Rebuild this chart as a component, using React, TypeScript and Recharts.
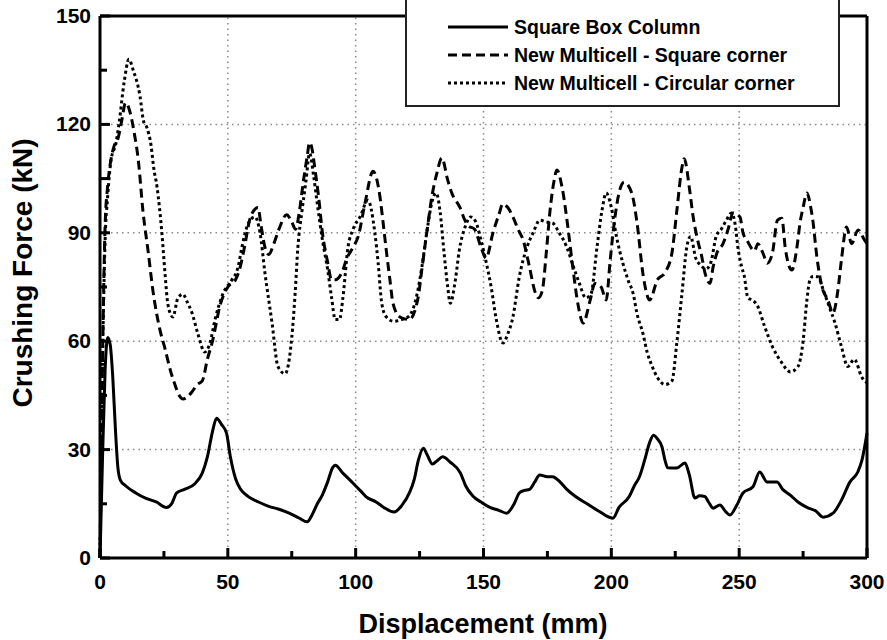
import React from 'react';
import { LineChart, Line, XAxis, YAxis, ReferenceLine, Label } from 'recharts';

// Square box column (solid)
const boxX = [0, 1, 2, 3, 4, 5, 6, 7, 8, 10, 14, 18, 22, 26, 28, 30, 33, 37, 40, 42, 44, 45.6, 47.5, 49.5, 51, 53, 55, 58, 62, 66, 70, 74, 78, 81, 83, 85, 87, 89, 91, 92, 95, 99, 102, 104, 108, 111, 115, 118, 121, 123, 124.5, 126.5, 128, 130, 132, 134, 137, 141, 143, 146, 149, 152.5, 156, 159, 162, 164, 166, 168, 170, 172, 175, 177, 180, 182.6, 186, 190.5, 195, 200.6, 203, 207, 209, 211, 213, 215, 216.5, 218, 219.8, 221, 222, 225.6, 228.8, 230.5, 232.7, 234.5, 236.6, 238, 239.8, 242.5, 244.5, 246.4, 249, 251.5, 255.4, 258, 261, 264.8, 267, 270, 273, 276.5, 280, 282.8, 286.7, 290, 293.3, 296.4, 298, 300];
const boxY = [0, 28, 52, 61, 59, 50, 36, 25, 21.5, 20, 18, 16.5, 15.5, 14, 15, 18, 19, 20.5, 23.5, 28, 35, 38.7, 37, 34.5, 28, 22, 19, 17, 15.5, 14.3, 13.5, 12.4, 11, 10, 12, 15, 17.5, 21, 25, 25.7, 23.5, 20.7, 18.5, 17, 15.5, 14, 12.7, 14.5, 18, 22, 27, 30.4, 28.5, 26, 27, 28, 26.5, 23.5, 20, 17, 15.5, 14, 13.2, 12.4, 15, 18, 18.7, 19, 21, 23, 22.5, 22.5, 21, 19, 17, 15, 13, 11, 14, 17, 20, 22.5, 27, 32, 34, 33, 30.8, 27, 25, 24.9, 26.3, 23, 16.6, 17.2, 17, 15.5, 13.8, 14.7, 13, 11.9, 14.5, 18, 19.7, 23.8, 21, 21, 19, 17.4, 15.5, 14, 13, 11.3, 12.4, 16, 21, 23.8, 27, 34.6];

// New multicell - square corner (dashed)
const sqX = [0, 1, 2, 3, 4, 5.5, 7, 8.5, 10, 11.5, 13.4, 15, 16.8, 18.8, 20.7, 23.5, 25.4, 27.5, 29.3, 31, 32.5, 34, 36, 38, 40, 42, 44, 47, 50, 53, 55, 56.5, 58.7, 60, 61.8, 63, 64.5, 66, 68, 70, 73, 75, 76.5, 78, 79.5, 81, 82, 83, 84, 85.5, 87, 89, 90.6, 92, 94.6, 96.6, 99, 101, 103.6, 106.8, 109.5, 110.7, 112, 113.4, 114.6, 117.3, 121, 124.4, 126, 128, 129.8, 131.8, 133.7, 136, 137.6, 140.8, 142.7, 144, 146.5, 149, 151, 153.7, 156, 157.6, 159.5, 161.5, 163.5, 165.5, 168, 170, 171.5, 173, 174.5, 176, 177.5, 178.7, 180.7, 183, 185, 187, 189, 191.6, 193.6, 196, 198, 199.5, 201, 203, 205, 208, 210, 212.5, 215, 218, 221, 223.7, 225.6, 227.6, 228.5, 230.6, 232, 233.5, 235.4, 236.6, 238.6, 239.8, 241.3, 243.7, 245.6, 247.6, 250.3, 251.5, 253, 256, 257.3, 259.3, 261, 263, 265, 266.7, 268, 270.6, 272.6, 273.8, 275, 276.5, 278, 278.8, 280.4, 282.4, 284.7, 286.7, 288.6, 290, 292, 294, 296.5, 299, 300];
const sqY = [0, 55, 92, 103, 109, 114, 116, 121, 126, 124, 117.6, 110, 96, 85, 74, 63, 58, 52, 48, 45, 44, 44.5, 46, 48, 49, 55, 60, 70, 75, 77, 81, 86, 94, 96, 97, 92, 86, 84, 87, 91, 95, 93, 91, 96, 104, 111, 115, 113, 108, 100, 90, 82, 77, 77, 79, 83, 86, 89, 98, 107, 100, 93, 85, 77, 70.5, 66.7, 66, 72, 80.5, 91, 100, 106.6, 110.7, 104.6, 101, 97, 93.5, 92, 91, 86, 83, 90, 95, 98, 97, 94.4, 91, 88, 80.5, 74, 72, 74, 84, 96, 104, 107.4, 102.7, 91.6, 80, 70, 65, 71, 76, 75, 71.4, 82, 92, 101, 104, 101, 93, 78, 71.4, 77, 79, 84.4, 96, 108, 110.5, 102, 94.4, 88.8, 83.3, 79, 76, 80.5, 84.4, 87, 90.8, 95.5, 94.4, 90, 88, 85, 87, 84.4, 81.6, 84.4, 93.5, 94, 86, 79.7, 86, 92.7, 97, 101, 97, 93.5, 83.3, 75, 71.4, 67.8, 74, 82.5, 91.6, 87, 90.8, 88, 87];

// New multicell - circular corner (dotted)
const ciX = [0, 1, 2, 3, 4.3, 6.3, 7.4, 9.5, 11.3, 13, 15.6, 17, 18.4, 20, 21, 22.3, 24.2, 25.4, 26.6, 28.5, 30.5, 32.5, 34, 36, 38.3, 41, 43, 45, 48, 51.6, 54, 55.5, 58, 60.6, 62.6, 64.5, 67.3, 69.6, 72.4, 75, 76.3, 77.4, 79, 80.5, 82, 83.5, 85, 87, 89, 90.6, 92, 93.7, 95, 97, 99, 101.7, 104.8, 107.5, 108.8, 110.2, 112, 115, 118, 121, 124, 126, 128, 130, 131.5, 133, 134.5, 136, 137, 139, 140.5, 143, 145, 147, 149, 151, 153, 155, 157.6, 159.5, 161.5, 164, 167, 169.4, 172, 174.5, 177, 179.6, 182.6, 185, 187.5, 190, 192, 194.4, 196.3, 198, 200, 202, 204.5, 206.5, 208.6, 210, 212.4, 214, 216, 218, 221, 223.7, 225.6, 227.6, 229.5, 231, 233, 235, 237, 239, 241, 243, 245, 247, 248.5, 249.5, 251, 252, 253.4, 255, 257, 260, 263, 266.7, 270, 273, 275, 276.5, 277.7, 279, 280.8, 283, 285, 287.5, 290, 292.5, 295, 298, 300];
const ciY = [0, 55, 88, 100, 110, 115, 120, 132, 138, 135, 128, 121, 119, 114, 108, 102.7, 90, 79, 70, 66.7, 72, 73, 71, 67.8, 62, 57, 59.5, 66, 73, 77, 80.5, 86, 92.6, 94.4, 90, 79, 65, 53, 51, 61, 73, 86, 96, 104, 112, 106, 98, 88, 80, 72, 66, 66, 72, 86, 91, 94.4, 99, 90, 81.6, 70.5, 66.7, 65.5, 66, 67, 73, 81, 91, 99, 101, 96, 85, 75, 70.5, 77, 85, 92, 94.4, 93, 88, 82, 75, 66, 59.5, 62, 66.7, 77.8, 86, 90, 93.5, 93, 92.7, 90, 86, 81, 76, 72, 73, 86, 96, 101, 97, 89, 81.6, 77, 73, 67.8, 62, 57, 53, 50, 48, 49, 59.5, 73, 86, 89, 83, 81, 80, 82, 89, 91, 93.5, 95.5, 92, 86, 80.5, 78, 72, 71.4, 70, 64, 58.5, 54, 51.5, 53, 60, 71.4, 77, 78, 77.8, 74, 70, 65, 58.5, 53, 55, 50, 48.5];

const xTicks = [0, 25, 50, 75, 100, 125, 150, 175, 200, 225, 250, 275, 300];
const yTicks = [0, 15, 30, 45, 60, 75, 90, 105, 120, 135, 150];
const gridX = [50, 100, 150, 200, 250];
const gridY = [30, 60, 90, 120];

const zip = (xs: number[], ys: number[]) => xs.map((x, i) => ({ x, y: ys[i] }));
const boxData = zip(boxX, boxY);
const squareData = zip(sqX, sqY);
const circData = zip(ciX, ciY);

const FONT = '"Liberation Sans", Arial, sans-serif';
const TICK_MAJOR = 10;
const TICK_MINOR = 7;

// custom tick: inward mark plus (for major values) the label outside
const BottomTick = (props: any) => {
    const { x, y, payload } = props;
    const major = payload.value % 50 === 0;
    const len = major ? TICK_MAJOR : TICK_MINOR;
    return (
        <g>
            <path d={`M${x},${y} L${x},${y - len}`} stroke="#000" strokeWidth={3} fill="none" />
            {major && (
                <text x={x} y={y + 31} textAnchor="middle" fontFamily={FONT} fontWeight="bold" fontSize={21} fill="#000">
                    {payload.value}
                </text>
            )}
        </g>
    );
};

const TopTick = (props: any) => {
    const { x, y, payload } = props;
    const len = payload.value % 50 === 0 ? TICK_MAJOR : TICK_MINOR;
    return <path d={`M${x},${y} L${x},${y + len}`} stroke="#000" strokeWidth={3} fill="none" />;
};

const LeftTick = (props: any) => {
    const { x, y, payload } = props;
    const major = payload.value % 30 === 0;
    const len = major ? TICK_MAJOR : TICK_MINOR;
    return (
        <g>
            <path d={`M${x},${y} L${x + len},${y}`} stroke="#000" strokeWidth={3} fill="none" />
            {major && (
                <text x={x - 9} y={y + 7} textAnchor="end" fontFamily={FONT} fontWeight="bold" fontSize={21} fill="#000">
                    {payload.value}
                </text>
            )}
        </g>
    );
};

const RightTick = (props: any) => {
    const { x, y, payload } = props;
    const len = payload.value % 30 === 0 ? TICK_MAJOR : TICK_MINOR;
    return <path d={`M${x},${y} L${x - len},${y}`} stroke="#000" strokeWidth={3} fill="none" />;
};

const legendItems = [
    { name: 'Square Box Column', dash: undefined, width: 3 },
    { name: 'New Multicell - Square corner', dash: '9 5', width: 3 },
    { name: 'New Multicell - Circular corner', dash: '3 3', width: 3 },
];

export default function App() {
    const axisLine = { stroke: '#000', strokeWidth: 3 };
    return (
        <div style={{ position: 'absolute', left: 0, top: 0, width: 887, height: 640, background: '#fff' }}>
            <LineChart width={887} height={640} margin={{ top: 15, right: 19, left: 40, bottom: 52 }}>
                {gridX.map((v) => (
                    <ReferenceLine key={'gx' + v} x={v} xAxisId="b" yAxisId="l" stroke="#8a8a8a" strokeDasharray="1.5 4" strokeWidth={1.5} />
                ))}
                {gridY.map((v) => (
                    <ReferenceLine key={'gy' + v} y={v} xAxisId="b" yAxisId="l" stroke="#8a8a8a" strokeDasharray="1.5 4" strokeWidth={1.5} />
                ))}
                <Line
                    xAxisId="b"
                    yAxisId="l"
                    data={boxData}
                    dataKey="y"
                    type="monotone"
                    stroke="#000"
                    strokeWidth={3}
                    dot={false}
                    isAnimationActive={false}
                />
                <Line
                    xAxisId="b"
                    yAxisId="l"
                    data={squareData}
                    dataKey="y"
                    type="monotone"
                    stroke="#000"
                    strokeWidth={3}
                    strokeDasharray="9 5"
                    dot={false}
                    isAnimationActive={false}
                />
                <Line
                    xAxisId="b"
                    yAxisId="l"
                    data={circData}
                    dataKey="y"
                    type="monotone"
                    stroke="#000"
                    strokeWidth={3}
                    strokeDasharray="3 3"
                    dot={false}
                    isAnimationActive={false}
                />
                <XAxis
                    xAxisId="b"
                    type="number"
                    dataKey="x"
                    domain={[0, 300]}
                    ticks={xTicks}
                    interval={0}
                    tick={BottomTick}
                    tickLine={false}
                    tickSize={0}
                    tickMargin={0}
                    axisLine={axisLine}
                    height={30}
                >
                    <Label
                        content={() => (
                            <text x={483} y={633} textAnchor="middle" fontFamily={FONT} fontWeight="bold" fontSize={27} fill="#000">
                                Displacement (mm)
                            </text>
                        )}
                    />
                </XAxis>
                <XAxis
                    xAxisId="t"
                    orientation="top"
                    type="number"
                    dataKey="x"
                    domain={[0, 300]}
                    ticks={xTicks}
                    interval={0}
                    tick={TopTick}
                    tickLine={false}
                    tickSize={0}
                    tickMargin={0}
                    axisLine={axisLine}
                    height={1}
                />
                <YAxis
                    yAxisId="l"
                    type="number"
                    domain={[0, 150]}
                    ticks={yTicks}
                    interval={0}
                    tick={LeftTick}
                    tickLine={false}
                    tickSize={0}
                    tickMargin={0}
                    axisLine={axisLine}
                    width={60}
                >
                    <Label
                        content={() => (
                            <text
                                x={32}
                                y={273}
                                transform="rotate(-90 32 273)"
                                textAnchor="middle"
                                fontFamily={FONT}
                                fontWeight="bold"
                                fontSize={28}
                                fill="#000"
                            >
                                Crushing Force (kN)
                            </text>
                        )}
                    />
                </YAxis>
                <YAxis
                    yAxisId="r"
                    orientation="right"
                    type="number"
                    domain={[0, 150]}
                    ticks={yTicks}
                    interval={0}
                    tick={RightTick}
                    tickLine={false}
                    tickSize={0}
                    tickMargin={0}
                    axisLine={axisLine}
                    width={1}
                />
            </LineChart>
            <div
                style={{
                    position: 'absolute',
                    left: 405,
                    top: -2,
                    width: 431,
                    height: 105,
                    border: '2px solid #222',
                    background: '#fff',
                    fontFamily: FONT,
                }}
            >
                {legendItems.map((item, i) => (
                    <div key={item.name} style={{ position: 'absolute', left: 40, top: 15 + i * 28, height: 24, display: 'flex', alignItems: 'center' }}>
                        <svg width={62} height={24} style={{ display: 'block' }}>
                            <line x1={1} y1={12} x2={61} y2={12} stroke="#000" strokeWidth={item.width} strokeDasharray={item.dash} />
                        </svg>
                        <span style={{ marginLeft: 5, fontSize: 19.5, fontWeight: 'bold', color: '#000', whiteSpace: 'nowrap' }}>{item.name}</span>
                    </div>
                ))}
            </div>
        </div>
    );
}
